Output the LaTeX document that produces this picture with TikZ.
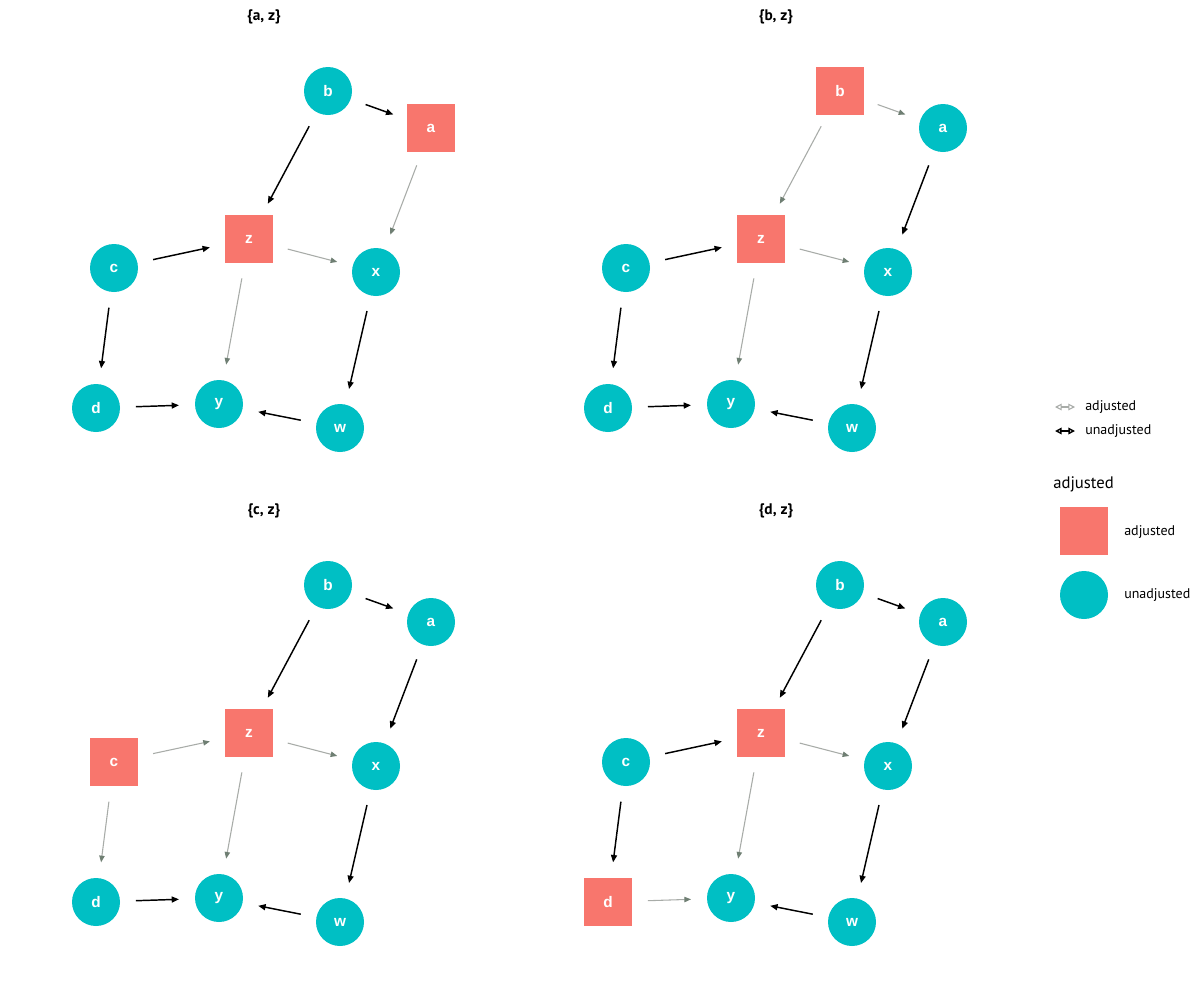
\documentclass[tikz,border=0pt]{standalone}
\usepackage{fontspec}
\setmainfont{Liberation Sans}
\newfontfamily\legfont{PT Sans}
\usetikzlibrary{arrows.meta}
\definecolor{salmon}{HTML}{F8766D}
\definecolor{teal}{HTML}{00BFC4}
\definecolor{adjline}{HTML}{A8ACA8}
\definecolor{adjtip}{HTML}{6F7F73}
\tikzset{
  adj/.style={rectangle, fill=salmon, minimum size=36pt, inner sep=0pt, text=white, font=\bfseries\fontsize{11.5}{13}\selectfont},
  unadj/.style={circle, fill=teal, minimum size=36pt, inner sep=0pt, text=white, font=\bfseries\fontsize{11.5}{13}\selectfont},
  uedge/.style={draw=black, line width=1.1pt, -{Triangle[length=5.5pt,width=4.5pt]}, shorten >=30pt, shorten <=30pt},
  aedge/.style={draw=adjline, line width=0.8pt, -{Triangle[length=5pt,width=4pt,color=adjtip,fill=adjtip]}, shorten >=30pt, shorten <=30pt},
  ptitle/.style={font=\legfont\bfseries\fontsize{11.5}{13}\selectfont},
  legtext/.style={font=\legfont\fontsize{10.5}{12}\selectfont, anchor=west, inner sep=0pt}
}
\newcommand\dagpanel[4]{%
\begin{scope}[shift={(#2,#3)}]
\node[ptitle] (#1t) at (264,17) {#4};
\node[nb] (#1b) at (328,91) {b};
\node[na] (#1a) at (431,128) {a};
\node[nz] (#1z) at (249,239) {z};
\node[nc] (#1c) at (114,268) {c};
\node[nx] (#1x) at (376,272) {x};
\node[nd] (#1d) at (96,408) {d};
\node[ny] (#1y) at (219,404) {y};
\node[nw] (#1w) at (340,428) {w};
\draw[eba] (#1b.center) -- (#1a.center);
\draw[ebz] (#1b.center) -- (#1z.center);
\draw[eax] (#1a.center) -- (#1x.center);
\draw[ecz] (#1c.center) -- (#1z.center);
\draw[ezx] (#1z.center) -- (#1x.center);
\draw[ezy] (#1z.center) -- (#1y.center);
\draw[ecd] (#1c.center) -- (#1d.center);
\draw[edy] (#1d.center) -- (#1y.center);
\draw[exw] (#1x.center) -- (#1w.center);
\draw[ewy] (#1w.center) -- (#1y.center);
\end{scope}}
\newcommand\setdefaults{\tikzset{na/.style=unadj, nb/.style=unadj, nc/.style=unadj, nd/.style=unadj, nz/.style=adj, nx/.style=unadj, ny/.style=unadj, nw/.style=unadj,
  eba/.style=uedge, ebz/.style=uedge, eax/.style=uedge, ecz/.style=uedge, ezx/.style=aedge, ezy/.style=aedge, ecd/.style=uedge, edy/.style=uedge, exw/.style=uedge, ewy/.style=uedge}}
\begin{document}
\begin{tikzpicture}[x=0.75pt,y=-0.75pt]
\useasboundingbox (0,0) rectangle (1200,1000);
\fill[white] (0,0) rectangle (1200,1000);
% panel 1: {a, z}
\setdefaults
\tikzset{na/.style=adj, eax/.style=aedge}
\dagpanel{p}{0}{0}{\{a, z\}}
% panel 2: {b, z}
\setdefaults
\tikzset{nb/.style=adj, eba/.style=aedge, ebz/.style=aedge}
\dagpanel{q}{512}{0}{\{b, z\}}
% panel 3: {c, z}
\setdefaults
\tikzset{nc/.style=adj, ecz/.style=aedge, ecd/.style=aedge}
\dagpanel{r}{0}{494}{\{c, z\}}
% panel 4: {d, z}
\setdefaults
\tikzset{nd/.style=adj, edy/.style=aedge}
\dagpanel{s}{512}{494}{\{d, z\}}
% legend
\coordinate (la1) at (1055,407);
\coordinate (la2) at (1075,407);
\coordinate (lu1) at (1055,431);
\coordinate (lu2) at (1075,431);
\draw[adjline, line width=0.8pt, {Triangle[open,length=5pt,width=5pt]}-{Triangle[open,length=5pt,width=5pt]}] (la1) -- (la2);
\draw[black, line width=1.1pt, {Triangle[open,length=5pt,width=5pt]}-{Triangle[open,length=5pt,width=5pt]}] (lu1) -- (lu2);
\node[legtext] (lat) at (1085,407) {adjusted};
\node[legtext] (lut) at (1085,431) {unadjusted};
\node[legtext, font=\legfont\fontsize{12.5}{14}\selectfont] (lt) at (1053,484) {adjusted};
\node[adj] (lsq) at (1084,531) {};
\node[unadj] (lci) at (1084,595) {};
\node[legtext] (lsqt) at (1124,532) {adjusted};
\node[legtext] (lcit) at (1124,595) {unadjusted};
\end{tikzpicture}
\end{document}
